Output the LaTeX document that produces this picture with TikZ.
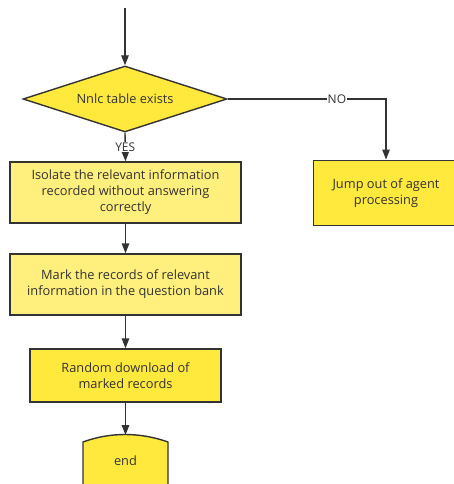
\documentclass[tikz,border=0pt]{standalone}
\usepackage{fontspec}
\setmainfont{Open Sans}
\usetikzlibrary{shapes.geometric,arrows.meta}
\definecolor{ybright}{HTML}{FFE93D}
\definecolor{ylight}{HTML}{FFEF7C}
\definecolor{ink}{HTML}{333333}
\tikzset{
  x=1pt,y=-1pt,
  txt/.style={text=ink,align=center,font=\fontsize{12.8}{16}\selectfont,inner sep=0pt},
  box/.style={txt,draw=ink,line width=1.4pt},
  conn/.style={draw=ink,line width=1.4pt,-{Triangle[length=10pt,width=7.5pt]}},
  lab/.style={fill=white,text=ink,font=\fontsize{12}{14}\selectfont,inner sep=1pt}
}
\begin{document}
\begin{tikzpicture}
\useasboundingbox (0,0) rectangle (454,484);
\coordinate (start) at (125,8);
\node[box,fill=ybright,diamond,minimum width=204pt,minimum height=66pt,aspect=3.09] (dec) at (125,99) {Nnlc table exists};
\node[box,fill=ylight,minimum width=231pt,minimum height=61pt] (iso) at (125.5,192.5) {Isolate the relevant information\\recorded without answering\\correctly};
\node[box,fill=ylight,minimum width=231pt,minimum height=61pt] (mark) at (125.5,284.5) {Mark the records of relevant\\information in the question bank};
\node[box,fill=ybright,minimum width=191pt,minimum height=53pt] (rand) at (125.5,375.5) {Random download of\\marked records};
\node[box,fill=ybright,minimum width=143pt,minimum height=65pt,anchor=north west] (jump) at (313,159.5) {};
\node[txt] (jumpt) at (386,193) {Jump out of agent\\processing};
\filldraw[draw=ink,line width=1.4pt,fill=ybright] (83,500) -- (83,442) .. controls (110,432) and (140,432) .. (168,442) -- (168,500);
\node[txt] (endn) at (125.5,461) {end};
\coordinate (endtop) at (125.5,435);
\draw[conn] (start) -- (dec.north);
\draw[conn] (dec.south) -- node[lab] {YES} (iso.north);
\draw[conn] (dec.east) -- (386,99) node[lab,pos=0.69] {NO} -- (386,159.5);
\draw[conn] (iso) -- (mark);
\draw[conn] (mark) -- (rand);
\draw[conn] (rand) -- (endtop);
\end{tikzpicture}
\end{document}
